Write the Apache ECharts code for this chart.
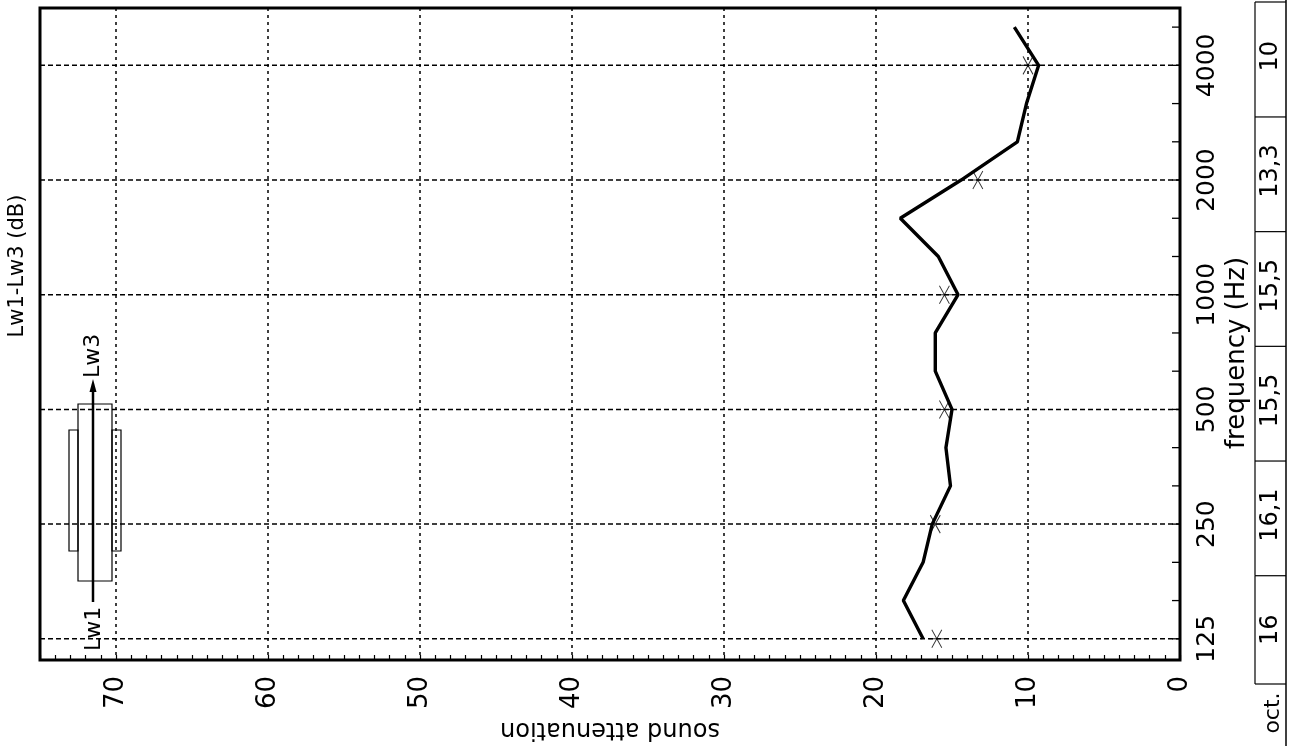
<!DOCTYPE html>
<html>
<head>
<meta charset="utf-8">
<script src="https://cdn.jsdelivr.net/npm/echarts@6/dist/echarts.min.js"></script>
<style>
  html, body { margin: 0; padding: 0; background: #fff; }
  #chart { width: 1290px; height: 746px; }
</style>
</head>
<body>
<div id="chart"></div>
<script>
// Third-octave band centre frequencies (Hz)
const bandFreqs = [125, 160, 200, 250, 315, 400, 500, 630, 800, 1000, 1250, 1600, 2000, 2500, 3150, 4000, 5000];
// Lw1-Lw3 per third-octave band (dB)
const bandAttenuation = [16.9, 18.2, 16.9, 16.3, 15.1, 15.4, 15.0, 16.1, 16.1, 14.6, 15.9, 18.4, 14.4, 10.7, 10.1, 9.3, 10.9];
// Octave bands and their values
const octaveFreqs = [125, 250, 500, 1000, 2000, 4000];
const octaveAttenuation = [16, 16.1, 15.5, 15.5, 13.3, 10];
const octaveLabels = ['16', '16,1', '15,5', '15,5', '13,3', '10'];
const octaveHeader = 'oct.';
// Value-axis tick labels (dB)
const attenuationTicks = [0, 10, 20, 30, 40, 50, 60, 70];

const FONT = '"DejaVu Sans","Liberation Sans",sans-serif';

// Position of a band on the frequency axis, in octaves above 125 Hz (nominal 1/3-octave steps)
function bandPos(f) { return Math.round(3 * Math.log2(f / 125)) / 3; }
const octaveSet = new Set(octaveFreqs);

const chart = echarts.init(document.getElementById('chart'), null, { renderer: 'canvas' });

const option = {
  backgroundColor: '#fff',
  animation: false,
  grid: { left: 40, right: 110, top: 8, bottom: 81, show: true, borderColor: '#000', borderWidth: 3, backgroundColor: 'transparent' },
  xAxis: [
    {
      type: 'value', inverse: true, position: 'bottom', min: 0, max: 75, interval: 10,
      name: 'sound attenuation', nameLocation: 'middle', nameRotate: 180, nameGap: 47,
      nameTextStyle: { fontFamily: FONT, fontSize: 24, color: '#000' },
      axisLine: { show: false },
      axisTick: { show: false },
      axisLabel: {
        rotate: 90, margin: 16, fontFamily: FONT, fontSize: 26, color: '#000', showMaxLabel: false,
        formatter: v => attenuationTicks.indexOf(v) >= 0 ? String(v) : ''
      },
      splitLine: { show: true, lineStyle: { color: '#000', width: 1.5, type: [3, 4] } }
    },
    {
      // fine 1 dB ticks along the bottom edge
      type: 'value', inverse: true, position: 'bottom', min: 0, max: 75, interval: 1,
      axisLine: { show: false },
      axisTick: { show: true, inside: true, length: 5, lineStyle: { color: '#000', width: 1.2 } },
      axisLabel: { show: false },
      splitLine: { show: false }
    }
  ],
  yAxis: {
    type: 'value', position: 'right', min: -0.185, max: 5.5,
    axisLine: { show: false }, axisTick: { show: false }, axisLabel: { show: false }, splitLine: { show: false }
  },
  graphic: [
    // axis titles
    { type: 'text', x: 18, y: 266, rotation: Math.PI / 2,
      style: { text: 'Lw1-Lw3 (dB)', font: '21px ' + FONT, fill: '#000', align: 'center', verticalAlign: 'middle' } },
    { type: 'text', x: 1237, y: 353, rotation: Math.PI / 2,
      style: { text: 'frequency (Hz)', font: '26px ' + FONT, fill: '#000', align: 'center', verticalAlign: 'middle' } },
    // Lw1 -> Lw3 schematic
    { type: 'rect', shape: { x: 69, y: 430, width: 9, height: 121 }, style: { fill: 'none', stroke: '#000', lineWidth: 1.2 } },
    { type: 'rect', shape: { x: 112, y: 430, width: 9, height: 121 }, style: { fill: 'none', stroke: '#000', lineWidth: 1.2 } },
    { type: 'rect', shape: { x: 78, y: 404, width: 34, height: 177 }, style: { fill: 'none', stroke: '#000', lineWidth: 1.2 } },
    { type: 'line', shape: { x1: 93, y1: 602, x2: 93, y2: 390 }, style: { stroke: '#000', lineWidth: 2.5 } },
    { type: 'polygon', shape: { points: [[93, 379], [89.5, 392], [96.5, 392]] }, style: { fill: '#000' } },
    { type: 'text', x: 93, y: 356, rotation: Math.PI / 2,
      style: { text: 'Lw3', font: '22px ' + FONT, fill: '#000', align: 'center', verticalAlign: 'middle' } },
    { type: 'text', x: 94, y: 629, rotation: Math.PI / 2,
      style: { text: 'Lw1', font: '22px ' + FONT, fill: '#000', align: 'center', verticalAlign: 'middle' } },
    // octave table header
    { type: 'line', shape: { x1: 1255, y1: 684, x2: 1286, y2: 684 }, style: { stroke: '#000', lineWidth: 1.2 } },
    { type: 'line', shape: { x1: 1286, y1: 0, x2: 1286, y2: 746 }, style: { stroke: '#000', lineWidth: 1.5 } },
    { type: 'text', x: 1273, y: 713, rotation: Math.PI / 2,
      style: { text: octaveHeader, font: '22px ' + FONT, fill: '#000', align: 'center', verticalAlign: 'middle' } }
  ],
  series: [
    {
      // frequency grid lines, band ticks and labels
      type: 'custom', xAxisIndex: 0, yAxisIndex: 0, silent: true, clip: false, z: 1,
      data: bandFreqs.map(f => [0, bandPos(f)]),
      renderItem: function (params, api) {
        const f = bandFreqs[params.dataIndex];
        const p = bandPos(f);
        const r = api.coord([0, p]);
        const l = api.coord([75, p]);
        const children = [
          { type: 'line', shape: { x1: r[0] - 8, y1: r[1], x2: r[0], y2: r[1] }, style: { stroke: '#000', lineWidth: 1.3 } }
        ];
        if (octaveSet.has(f)) {
          children.push({ type: 'line', shape: { x1: l[0], y1: l[1], x2: r[0], y2: r[1] },
            style: { stroke: '#000', lineWidth: 1.5, lineDash: [5, 3] } });
          children.push({ type: 'text', x: r[0] + 27, y: r[1], rotation: Math.PI / 2,
            style: { text: String(f), font: '25px ' + FONT, fill: '#000', align: 'center', verticalAlign: 'middle' } });
        }
        return { type: 'group', children: children };
      }
    },
    {
      // octave value table beside the chart
      type: 'custom', xAxisIndex: 0, yAxisIndex: 0, silent: true, clip: false, z: 1,
      data: octaveFreqs.map(f => [0, bandPos(f)]),
      renderItem: function (params, api) {
        const i = params.dataIndex;
        const p = bandPos(octaveFreqs[i]);
        const yc = api.coord([0, p])[1];
        const yLow = i === 0 ? 684 : api.coord([0, p - 0.45])[1];
        const yHigh = i === octaveFreqs.length - 1 ? 2 : api.coord([0, p + 0.55])[1];
        return { type: 'group', children: [
          { type: 'line', shape: { x1: 1255, y1: yLow, x2: 1255, y2: yHigh }, style: { stroke: '#000', lineWidth: 1.2 } },
          { type: 'line', shape: { x1: 1255, y1: yHigh, x2: 1286, y2: yHigh }, style: { stroke: '#000', lineWidth: 1.2 } },
          { type: 'text', x: 1271, y: yc - 9, rotation: Math.PI / 2,
            style: { text: octaveLabels[i], font: '24px ' + FONT, fill: '#000', align: 'center', verticalAlign: 'middle' } }
        ] };
      }
    },
    {
      type: 'line', xAxisIndex: 0, yAxisIndex: 0, z: 5,
      data: bandFreqs.map((f, i) => [bandAttenuation[i], bandPos(f)]),
      showSymbol: false, symbol: 'none',
      lineStyle: { color: '#000', width: 3.4 }
    },
    {
      type: 'scatter', xAxisIndex: 0, yAxisIndex: 0, z: 4,
      data: octaveFreqs.map((f, i) => [octaveAttenuation[i], bandPos(f)]),
      symbol: 'path://M0,9L16,9M3,0L13,18M13,0L3,18', symbolSize: [16, 18],
      itemStyle: { color: 'transparent', borderColor: '#000', borderWidth: 1 }
    }
  ]
};

chart.setOption(option);
</script>
</body>
</html>
